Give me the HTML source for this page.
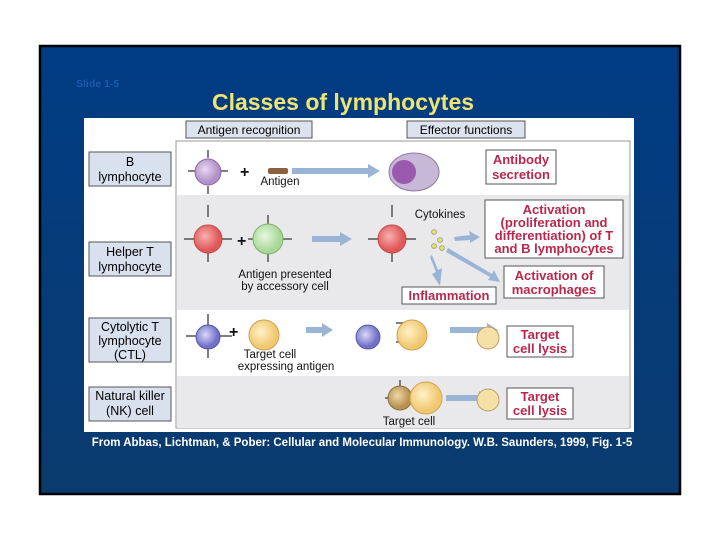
<!DOCTYPE html>
<html><head><meta charset="utf-8"><style>
html,body{margin:0;padding:0;background:#fff;}
body{width:720px;height:540px;position:relative;overflow:hidden;font-family:"Liberation Sans",sans-serif;}
svg{position:absolute;left:0;top:0;}
</style></head><body>
<svg width="720" height="540" viewBox="0 0 720 540" font-family="Liberation Sans, sans-serif">
<defs>
<linearGradient id="bg" x1="0" y1="0" x2="0" y2="1"><stop offset="0" stop-color="#003c84"/><stop offset="1" stop-color="#0a3b6e"/></linearGradient>
<radialGradient id="pur" cx="0.4" cy="0.4"><stop offset="0" stop-color="#e8d8f0"/><stop offset="1" stop-color="#b090c8"/></radialGradient>
<radialGradient id="red" cx="0.4" cy="0.4"><stop offset="0" stop-color="#f8b0b0"/><stop offset="1" stop-color="#e05858"/></radialGradient>
<radialGradient id="blu" cx="0.4" cy="0.4"><stop offset="0" stop-color="#d8d8f8"/><stop offset="1" stop-color="#7070c8"/></radialGradient>
<radialGradient id="tan" cx="0.4" cy="0.4"><stop offset="0" stop-color="#f0d8a8"/><stop offset="1" stop-color="#b89050"/></radialGradient>
<radialGradient id="yel" cx="0.4" cy="0.4"><stop offset="0" stop-color="#fff2c8"/><stop offset="1" stop-color="#f0c870"/></radialGradient>
<radialGradient id="grn" cx="0.4" cy="0.4"><stop offset="0" stop-color="#e8f8e0"/><stop offset="1" stop-color="#a8d898"/></radialGradient>
</defs>
<rect x="40" y="46" width="640" height="448" fill="url(#bg)" stroke="#000" stroke-width="2.5"/>
<text x="76" y="87" font-size="10.5" font-weight="bold" fill="#1d5bb0">Slide 1-5</text>
<text x="343" y="110" font-size="23" font-weight="bold" fill="#f0e470" text-anchor="middle">Classes of lymphocytes</text>
<rect x="84" y="118" width="550" height="314" fill="#fff"/>
<rect x="176" y="141" width="454" height="287" fill="#fff" stroke="#9a9a9a"/>
<rect x="177" y="195" width="452" height="115" fill="#e9e9ec"/>
<rect x="177" y="376" width="452" height="52" fill="#e9e9ec"/>
<rect x="186" y="121" width="126" height="17" fill="#dde3ee" stroke="#555"/>
<text x="249" y="134" font-size="12" text-anchor="middle">Antigen recognition</text>
<rect x="407" y="121" width="118" height="17" fill="#dde3ee" stroke="#555"/>
<text x="466" y="134" font-size="12" text-anchor="middle">Effector functions</text>
<g fill="#d9e1ee" stroke="#555">
<rect x="89" y="152" width="82" height="34"/><rect x="89" y="242" width="82" height="34"/>
<rect x="89" y="318" width="82" height="44"/><rect x="89" y="387" width="82" height="34"/></g>
<g font-size="12.5" text-anchor="middle" fill="#000">
<text x="130" y="166">B</text><text x="130" y="181">lymphocyte</text>
<text x="130" y="256">Helper T</text><text x="130" y="271">lymphocyte</text>
<text x="130" y="331">Cytolytic T</text><text x="130" y="345">lymphocyte</text><text x="130" y="359">(CTL)</text>
<text x="130" y="400">Natural killer</text><text x="130" y="415">(NK) cell</text>
</g>
<g fill="#fff" stroke="#555">
<rect x="486" y="150" width="70" height="34"/><rect x="485" y="200" width="138" height="58"/>
<rect x="504" y="266" width="100" height="32"/><rect x="402" y="287" width="94" height="17"/>
<rect x="507" y="326" width="66" height="31"/><rect x="507" y="388" width="66" height="31"/></g>
<g font-size="13" font-weight="bold" fill="#b8284a" text-anchor="middle">
<text x="521" y="164">Antibody</text><text x="521" y="179">secretion</text>
<text x="554" y="214">Activation</text><text x="554" y="227">(proliferation and</text><text x="554" y="240">differentiation) of T</text><text x="554" y="253">and B lymphocytes</text>
<text x="554" y="280">Activation of</text><text x="554" y="294">macrophages</text>
<text x="449" y="300">Inflammation</text>
<text x="540" y="339">Target</text><text x="540" y="353">cell lysis</text>
<text x="540" y="401">Target</text><text x="540" y="415">cell lysis</text>
</g>
<g font-size="11.5" fill="#111" text-anchor="middle">
<text x="280" y="185">Antigen</text>
<text x="440" y="218">Cytokines</text>
<text x="285" y="278">Antigen presented</text><text x="285" y="290">by accessory cell</text>
<text x="270" y="358">Target cell</text><text x="286" y="370">expressing antigen</text>
<text x="409" y="425">Target cell</text>
</g>
<g fill="#9ab4d6">
<polygon points="292,168 368,168 368,164 380,171 368,178 368,174 292,174"/>
<polygon points="312,236 340,236 340,232 352,239 340,246 340,242 312,242"/>
<polygon points="454,237 470,235 469,231 480,237 470,243 470,240 455,241"/>
<polygon points="448,248 492,274 494,270 500,282 488,280 490,277 446,252"/>
<polygon points="432,255 438,270 442,268 440,286 432,274 436,272 430,257"/>
<polygon points="306,327 322,327 322,323 333,330 322,337 322,333 306,333"/>
<polygon points="450,327 487,327 487,323 498,330 487,337 487,333 450,333"/>
<polygon points="446,395 479,395 479,391 490,398 479,405 479,401 446,401"/>
</g>
<g font-size="16" font-weight="bold" fill="#111"><text x="240" y="177">+</text><text x="237" y="246">+</text><text x="229" y="337">+</text></g>
<g stroke="#555" stroke-width="1.5" fill="none">
<path d="M208 150v8M208 186v8M188 171h8M220 171h8"/>
<path d="M208 205v12M208 252v10M184 239h10M222 239h10"/>
<path d="M268 215v12M268 252v10M248 239h10M280 239h12"/>
<path d="M392 205v12M392 252v10M368 239h10M406 239h10"/>
<path d="M208 314v12M208 346v12M186 336h10M220 336h12"/>
<path d="M396 323h10M396 342h10"/>
<path d="M400 380v6M385 398h6"/>
</g>
<circle cx="208" cy="172" r="13" fill="url(#pur)" stroke="#8a6aa0"/>
<circle cx="208" cy="239" r="14" fill="url(#red)" stroke="#c04848"/>
<circle cx="268" cy="239" r="15" fill="url(#grn)" stroke="#80b070"/>
<circle cx="392" cy="239" r="14" fill="url(#red)" stroke="#c04848"/>
<circle cx="208" cy="337" r="12" fill="url(#blu)" stroke="#5858a8"/>
<circle cx="264" cy="335" r="15" fill="url(#yel)" stroke="#d0a050"/>
<circle cx="368" cy="337" r="12" fill="url(#blu)" stroke="#5858a8"/>
<circle cx="412" cy="335" r="15" fill="url(#yel)" stroke="#d0a050"/>
<circle cx="400" cy="398" r="12" fill="url(#tan)" stroke="#907040"/>
<circle cx="426" cy="398" r="16" fill="url(#yel)" stroke="#d0a050"/>
<rect x="268" y="168" width="20" height="6" rx="2" fill="#8a6040"/>
<ellipse cx="414" cy="172" rx="25" ry="19" fill="#c8b8d8" stroke="#8a7aa0"/>
<circle cx="404" cy="172" r="12" fill="#9a5ab0"/>
<g fill="#e0e060" stroke="#888" stroke-width="0.6">
<circle cx="434" cy="232" r="2.5"/><circle cx="440" cy="240" r="2.5"/><circle cx="434" cy="246" r="2.5"/><circle cx="442" cy="248" r="2.5"/></g>
<g fill="#f5e0a8" stroke="#c0a060">
<circle cx="488" cy="338" r="11"/><circle cx="488" cy="400" r="11"/></g>
<text x="362" y="446" font-size="11.5" font-weight="bold" fill="#fff" text-anchor="middle">From Abbas, Lichtman, &amp; Pober: Cellular and Molecular Immunology. W.B. Saunders, 1999, Fig. 1-5</text>
</svg>
</body></html>
